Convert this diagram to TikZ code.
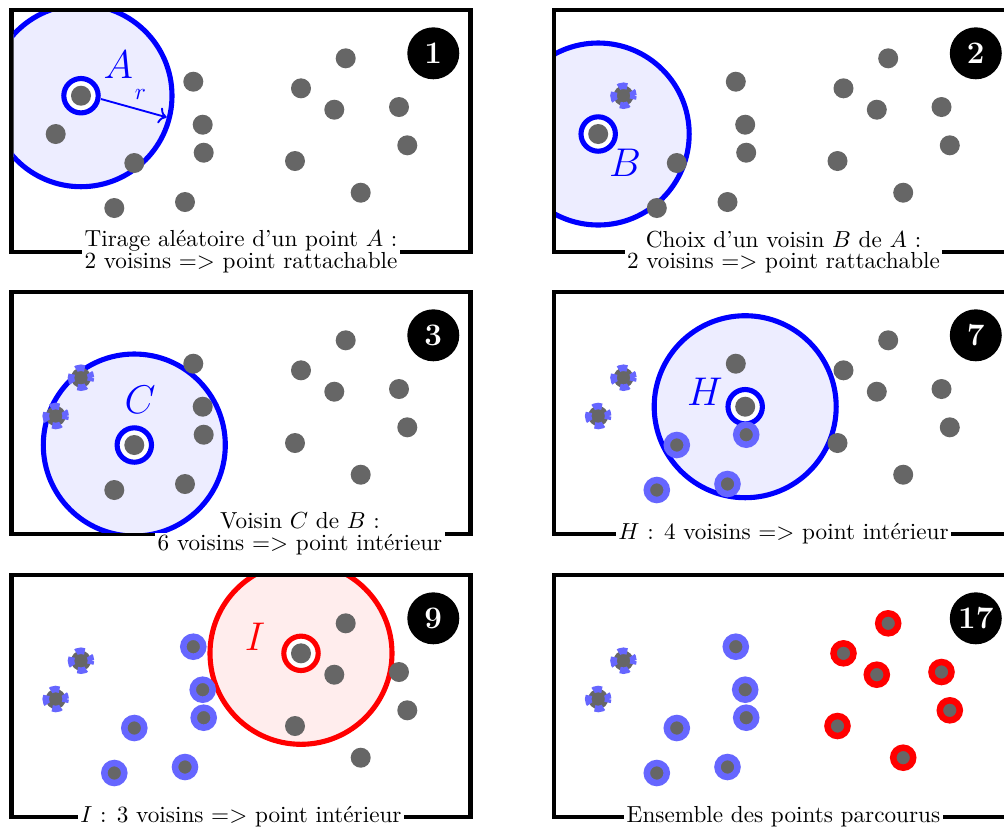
\documentclass[tikz,border=0pt]{standalone}
\usepackage{amsmath}
\usepackage{amssymb}
\usetikzlibrary{arrows.meta, positioning}
% nuage de points commun aux six etapes (coordonnees dans le cadre)
\newcommand{\nuage}{%
  \foreach \n/\x/\y in {1/69.5/85.7, 2/44.2/124, 3/122.8/153, 4/102.8/198,
      5/173.5/192, 6/181.8/71.7, 7/191.2/114.7, 8/192.2/142.7, 9/289.5/78.3,
      10/334.2/48.3, 11/322.8/99.7, 12/283.5/151, 13/387.5/97, 14/395.8/135.3,
      15/349.2/182.7}
    {\coordinate (p\n) at (\x,\y);}}
\newcommand{\tousPoints}{\foreach \n in {1,...,15} {\fill[gris] (p\n) circle (10);}}
\newcommand{\cadreEtape}{\draw[cadre] (0,0) rectangle (\largeur,\hauteur);}
\newcommand{\interieurCadre}{\clip (2,2) rectangle (\largeur-2,\hauteur-2);}
\newcommand{\choix}[2]{\draw[#2] (#1) circle (17.2); \fill[gris] (#1) circle (10);}

\begin{document}
\begin{tikzpicture}[x=0.431pt, y=-0.431pt,
    gris/.style={black!60},
    cadre/.style={line width=1.75pt},
    zoneBleue/.style={draw=blue, fill=blue!7, line width=2.2pt},
    zoneRouge/.style={draw=red, fill=red!7, line width=2.2pt},
    choixBleu/.style={draw=blue, fill=white, line width=2.2pt},
    choixRouge/.style={draw=red, fill=white, line width=2.2pt},
    interieur/.style={draw=blue!60, line width=2.8pt},
    parcouru/.style={draw=red, line width=2.8pt},
    rattache/.style={draw=blue!60, line width=2.8pt,
      dash pattern=on 3.9pt off 2.87pt, dash phase=2.4pt},
    numero/.style={circle, fill=black, text=white, inner sep=0pt, minimum size=22.4pt,
      font=\fontsize{13.5}{16}\selectfont\bfseries},
    legende/.style={fill=white, inner sep=1pt, align=center, font=\fontsize{10}{9.4}\selectfont},
    lettre/.style={font=\LARGE}]
  \def\largeur{459}
  \def\hauteur{242}
  \clip (0,0) rectangle (1004,827);

  % Etape 1 : tirage de A
  \begin{scope}[shift={(11.5,10)}]
    \nuage
    \cadreEtape
    \node[legende] (legende1) at (229.5,\hauteur) {Tirage aléatoire d’un point $A$ :\\2 voisins => point rattachable};
    \begin{scope}
      \interieurCadre
      \draw[zoneBleue] (p1) circle (91);
      \tousPoints
      \choix{p1}{choixBleu}
    \end{scope}
    \node[lettre, text=blue] (lettreA) at (106.8,55) {$A$};
    \coordinate (rDebut) at (89.5,89);
    \coordinate (rFin) at (155.2,107.3);
    \draw[blue, line width=0.8pt, -{To}] (rDebut) -- (rFin) node[pos=0.6, above=1pt] (labelR) {$r$};
    \node[numero] (num1) at (421.8,43.3) {1};
  \end{scope}

  % Etape 2 : voisin B
  \begin{scope}[shift={(554,10)}]
    \nuage
    \cadreEtape
    \node[legende] (legende2) at (229.5,\hauteur) {Choix d’un voisin $B$ de $A$ :\\2 voisins => point rattachable};
    \begin{scope}
      \interieurCadre
      \draw[zoneBleue] (p2) circle (91);
      \tousPoints
      \draw[rattache] (p1) circle (10);
      \choix{p2}{choixBleu}
    \end{scope}
    \node[lettre, text=blue] (lettreB) at (71,152.7) {$B$};
    \node[numero] (num2) at (421.8,43.3) {2};
  \end{scope}

  % Etape 3 : voisin C
  \begin{scope}[shift={(11.5,292)}]
    \nuage
    \cadreEtape
    \node[legende] (legende3) at (288.5,\hauteur) {Voisin $C$ de $B$ :\\6 voisins => point intérieur};
    \begin{scope}
      \interieurCadre
      \draw[zoneBleue] (p3) circle (91);
      \tousPoints
      \foreach \n in {1,2} {\draw[rattache] (p\n) circle (10);}
      \choix{p3}{choixBleu}
    \end{scope}
    \node[lettre, text=blue] (lettreC) at (128.5,108) {$C$};
    \node[numero] (num3) at (421.8,43.3) {3};
  \end{scope}

  % Etape 7 : point H
  \begin{scope}[shift={(554,292)}]
    \nuage
    \cadreEtape
    \node[legende] (legende7) at (229.5,\hauteur) {$H$ : 4 voisins => point intérieur};
    \begin{scope}
      \interieurCadre
      \draw[zoneBleue] (p7) circle (91);
      \tousPoints
      \choix{p7}{choixBleu}
      \foreach \n in {1,2} {\draw[rattache] (p\n) circle (10);}
      \foreach \n in {3,4,5,8} {\draw[interieur] (p\n) circle (10);}
    \end{scope}
    \node[lettre, text=blue] (lettreH) at (151,99.7) {$H$};
    \node[numero] (num7) at (421.8,43.3) {7};
  \end{scope}

  % Etape 9 : point I
  \begin{scope}[shift={(11.5,575)}]
    \nuage
    \cadreEtape
    \node[legende] (legende9) at (229.5,\hauteur) {$I$ : 3 voisins => point intérieur};
    \begin{scope}
      \interieurCadre
      \draw[zoneRouge] (p9) circle (91);
      \tousPoints
      \choix{p9}{choixRouge}
      \foreach \n in {1,2} {\draw[rattache] (p\n) circle (10);}
      \foreach \n in {3,...,8} {\draw[interieur] (p\n) circle (10);}
    \end{scope}
    \node[lettre, text=red] (lettreI) at (243.5,61.7) {$I$};
    \node[numero] (num9) at (421.8,43.3) {9};
  \end{scope}

  % Etape 17 : bilan
  \begin{scope}[shift={(554,575)}]
    \nuage
    \cadreEtape
    \node[legende] (legende17) at (229.5,\hauteur) {Ensemble des points parcourus};
    \begin{scope}
      \interieurCadre
      \tousPoints
      \foreach \n in {1,2} {\draw[rattache] (p\n) circle (10);}
      \foreach \n in {3,...,8} {\draw[interieur] (p\n) circle (10);}
      \foreach \n in {9,...,15} {\draw[parcouru] (p\n) circle (10);}
    \end{scope}
    \node[numero] (num17) at (421.8,43.3) {17};
  \end{scope}
\end{tikzpicture}
\end{document}
